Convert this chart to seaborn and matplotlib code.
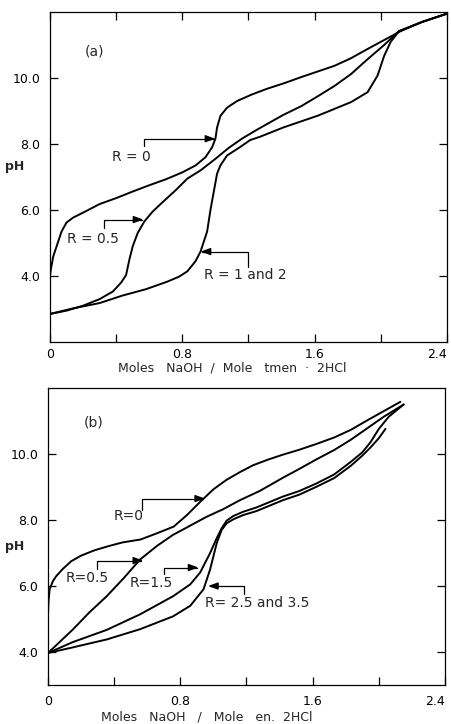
import numpy as np
import pandas as pd
import matplotlib
matplotlib.use("Agg")
import matplotlib.pyplot as plt
import seaborn as sns

# ---------------- Panel (a): tmen.2HCl ----------------
a_r0_x = [0, 0.005, 0.02, 0.04, 0.07, 0.1, 0.14, 0.2, 0.3, 0.4, 0.5, 0.6, 0.7, 0.8,
          0.88, 0.94, 0.98, 1.0, 1.01, 1.03, 1.07, 1.13, 1.22, 1.31, 1.42, 1.52,
          1.62, 1.72, 1.82, 1.92, 2.02, 2.12, 2.25, 2.4]
a_r0_y = [4.0, 4.2, 4.6, 4.9, 5.35, 5.62, 5.77, 5.92, 6.18, 6.36, 6.56, 6.75, 6.93, 7.14,
          7.35, 7.6, 7.9, 8.16, 8.5, 8.85, 9.1, 9.3, 9.5, 9.67, 9.85, 10.03,
          10.2, 10.37, 10.6, 10.88, 11.15, 11.42, 11.7, 11.95]

a_r05_x = [0, 0.1, 0.2, 0.3, 0.38, 0.43, 0.46, 0.48, 0.5, 0.53, 0.57, 0.62, 0.69, 0.76,
           0.83, 0.91, 1.0, 1.08, 1.16, 1.24, 1.31, 1.41, 1.52, 1.62, 1.72, 1.82,
           1.92, 2.02, 2.11, 2.25, 2.4]
a_r05_y = [2.85, 2.95, 3.1, 3.3, 3.53, 3.8, 4.03, 4.5, 4.9, 5.3, 5.65, 5.95, 6.28, 6.6,
           6.95, 7.2, 7.55, 7.88, 8.16, 8.4, 8.6, 8.88, 9.15, 9.45, 9.76, 10.12,
           10.57, 11.0, 11.42, 11.7, 11.95]

a_r1_x = [0, 0.14, 0.3, 0.44, 0.58, 0.71, 0.78, 0.83, 0.88, 0.91, 0.95, 0.97, 0.99,
          1.01, 1.03, 1.07, 1.15, 1.21, 1.27, 1.41, 1.62, 1.82, 1.92, 1.98, 2.02,
          2.06, 2.11, 2.25, 2.4]
a_r1_y = [2.85, 3.02, 3.18, 3.41, 3.6, 3.83, 3.98, 4.14, 4.45, 4.74, 5.35, 6.0, 6.55,
          7.1, 7.35, 7.65, 7.91, 8.12, 8.22, 8.5, 8.86, 9.27, 9.57, 10.07, 10.67,
          11.1, 11.42, 11.7, 11.95]

# ---------------- Panel (b): en.2HCl ----------------
b_r0_x = [0, 0.003, 0.01, 0.03, 0.05, 0.09, 0.14, 0.2, 0.28, 0.36, 0.45, 0.56, 0.66,
          0.76, 0.84, 0.92, 1.0, 1.08, 1.16, 1.24, 1.33, 1.42, 1.52, 1.62, 1.73,
          1.83, 1.93, 2.03, 2.13]
b_r0_y = [5.1, 5.55, 5.9, 6.15, 6.3, 6.52, 6.75, 6.92, 7.08, 7.2, 7.32, 7.41, 7.6,
          7.8, 8.15, 8.55, 8.93, 9.22, 9.45, 9.66, 9.83, 9.98, 10.13, 10.3, 10.5,
          10.73, 11.02, 11.3, 11.58]

b_r05_x = [0, 0.15, 0.25, 0.355, 0.46, 0.556, 0.66, 0.756, 0.86, 0.96, 1.06, 1.16,
           1.28, 1.42, 1.52, 1.62, 1.73, 1.83, 1.93, 2.03, 2.15]
b_r05_y = [3.97, 4.68, 5.2, 5.69, 6.25, 6.8, 7.22, 7.55, 7.83, 8.1, 8.33, 8.6,
           8.88, 9.28, 9.55, 9.83, 10.12, 10.43, 10.78, 11.13, 11.5]

b_r15_x = [0, 0.15, 0.355, 0.556, 0.756, 0.86, 0.92, 0.98, 1.02, 1.05, 1.08, 1.12,
           1.18, 1.26, 1.42, 1.52, 1.62, 1.73, 1.83, 1.9, 1.95, 2.0, 2.06, 2.15]
b_r15_y = [3.97, 4.3, 4.67, 5.14, 5.69, 6.05, 6.41, 7.0, 7.45, 7.75, 7.98, 8.12,
           8.25, 8.38, 8.71, 8.88, 9.1, 9.38, 9.76, 10.05, 10.36, 10.76, 11.13, 11.5]

b_r25_x = [0, 0.15, 0.355, 0.556, 0.756, 0.86, 0.94, 0.98, 1.02, 1.05, 1.08, 1.12,
           1.18, 1.26, 1.42, 1.52, 1.62, 1.73, 1.83, 1.9, 1.95, 2.0, 2.04]
b_r25_y = [3.97, 4.14, 4.38, 4.69, 5.08, 5.4, 5.9, 6.5, 7.3, 7.7, 7.9, 8.02,
           8.15, 8.27, 8.6, 8.77, 9.0, 9.27, 9.64, 9.95, 10.2, 10.48, 10.76]

# ticks and labels
x_ticks = [0, 0.4, 0.8, 1.2, 1.6, 2.0, 2.4]
x_ticklabels = ["0", "", "0.8", "", "1.6", "", "2.4"]
y_ticks = [4, 6, 8, 10]
y_ticklabels = ["4.0", "6.0", "8.0", "10.0"]
xlabel_a = "Moles   NaOH  /  Mole   tmen  ·  2HCl"
xlabel_b = "Moles   NaOH   /   Mole   en.  2HCl"

# annotation labels: (text, x, y, ha)
labels_a = [("R = 0", 0.49, 7.6, "center"),
            ("R = 0.5", 0.26, 5.13, "center"),
            ("R = 1 and 2", 0.93, 4.02, "left")]
arrows_a = [((0.57, 7.95), (1.0, 8.16)),
            ((0.327, 5.44), (0.565, 5.71)),
            ((1.195, 4.28), (0.91, 4.74))]
labels_b = [("R=0", 0.485, 8.13, "center"),
            ("R=0.5", 0.238, 6.25, "center"),
            ("R=1.5", 0.627, 6.08, "center"),
            ("R= 2.5 and 3.5", 0.95, 5.49, "left")]
arrows_b = [((0.566, 8.3), (0.95, 8.65)),
            ((0.298, 6.53), (0.576, 6.77)),
            ((0.70, 6.35), (0.91, 6.56)),
            ((1.185, 5.75), (0.967, 6.0))]


def frame(curves):
    parts = []
    for name, xs, ys in curves:
        parts.append(pd.DataFrame({"x": xs, "pH": ys, "curve": name}))
    return pd.concat(parts, ignore_index=True)


df_a = frame([("R=0", a_r0_x, a_r0_y), ("R=0.5", a_r05_x, a_r05_y),
              ("R=1 and 2", a_r1_x, a_r1_y)])
df_b = frame([("R=0", b_r0_x, b_r0_y), ("R=0.5", b_r05_x, b_r05_y),
              ("R=1.5", b_r15_x, b_r15_y), ("R=2.5 and 3.5", b_r25_x, b_r25_y)])

sns.set_theme(style="ticks")
plt.rcParams['font.family'] = ['DejaVu Sans']
plt.rcParams['axes.linewidth'] = 0.9
plt.rcParams['axes.edgecolor'] = 'black'

fig = plt.figure(figsize=(4.52, 7.24), dpi=100)
ax_a = fig.add_axes([50 / 452, 1 - 342 / 724, 397 / 452, 330 / 724])
ax_b = fig.add_axes([48 / 452, 1 - 685 / 724, 397 / 452, 297 / 724])

for ax, df, ylim, tag, tagpos, labels, arrows, xl, top in [
        (ax_a, df_a, (2, 12), "(a)", (0.267, 10.8), labels_a, arrows_a, xlabel_a, True),
        (ax_b, df_b, (3, 12), "(b)", (0.278, 10.95), labels_b, arrows_b, xlabel_b, False)]:
    sns.lineplot(data=df, x="x", y="pH", units="curve", estimator=None, sort=False,
                 color="black", linewidth=1.4, ax=ax)
    ax.set_xlim(0, 2.4)
    ax.set_ylim(*ylim)
    ax.set_xticks(x_ticks)
    ax.set_xticklabels(x_ticklabels)
    ax.set_yticks(y_ticks)
    ax.set_yticklabels(y_ticklabels)
    ax.tick_params(axis="both", direction="in", length=6, width=0.9,
                   labelsize=9, colors="black")
    ax.tick_params(axis="x", top=top, bottom=True)
    ax.tick_params(axis="y", left=True, right=True, pad=7)
    for s in ax.spines.values():
        s.set_visible(True)
        s.set_color("black")
    ax.set_ylabel("pH", rotation=0, fontsize=9, fontweight="bold")
    ax.set_xlabel(xl, fontsize=9)
    ax.text(tagpos[0], tagpos[1], tag, fontsize=10, ha="center", va="center")
    for t, x, y, ha in labels:
        ax.text(x, y, t, fontsize=10, ha=ha, va="center")
    for start, end in arrows:
        ax.annotate("", xy=end, xytext=start,
                    arrowprops=dict(arrowstyle="-|>,head_length=0.5,head_width=0.18",
                                    connectionstyle="angle,angleA=90,angleB=0,rad=0",
                                    color="black", lw=0.9, shrinkA=0, shrinkB=0))
    # keep the last x tick label ("2.4") inside the figure
    ax.get_xticklabels()[-1].set_horizontalalignment("right")

ax_a.tick_params(axis="x", pad=4)
ax_b.tick_params(axis="x", pad=7)
ax_a.yaxis.set_label_coords(-0.088, 0.512)
ax_b.yaxis.set_label_coords(-0.083, 0.444)
ax_a.xaxis.set_label_coords(0.458, -0.058)
ax_b.xaxis.set_label_coords(0.40, -0.0875)
ax_a.xaxis.label.set_va("top")
ax_b.xaxis.label.set_va("top")

fig.savefig("out.png", dpi=100)
